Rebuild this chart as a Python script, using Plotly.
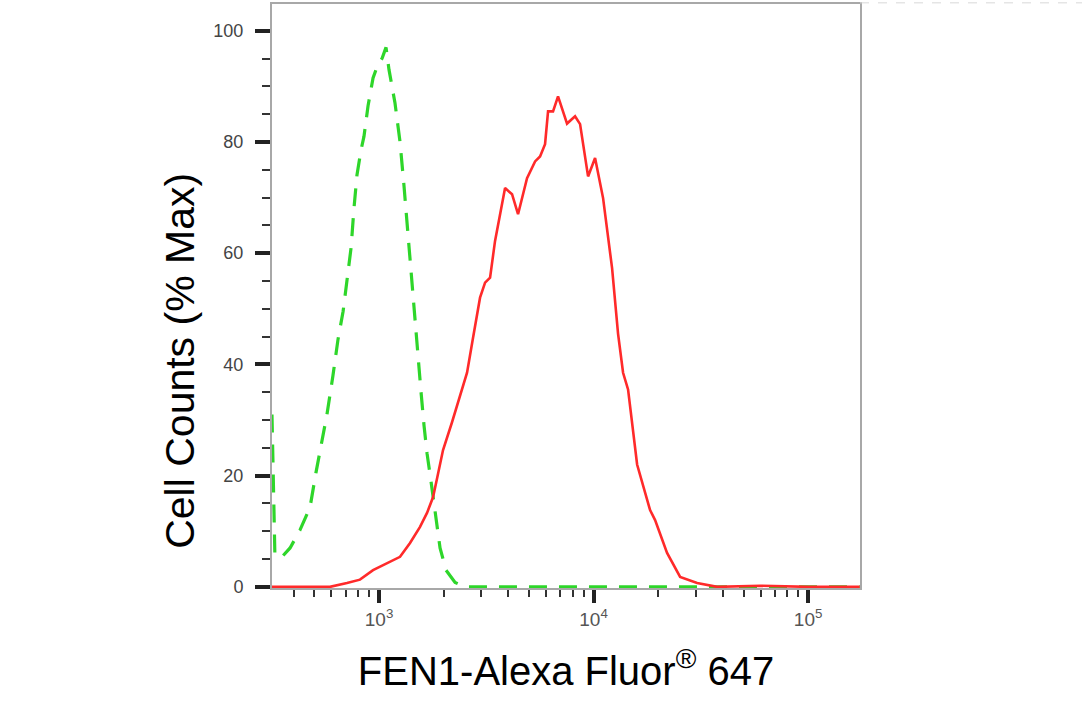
import plotly.graph_objects as go

# Isotype control (green dashed)
control_x = [317, 327, 349, 385, 428, 477, 508, 542, 572, 610, 644, 680, 709, 741, 764, 789,
             824, 851, 889, 938, 989, 1033, 1078, 1113, 1187, 1253, 1308, 1366, 1425, 1472,
             1520, 1570, 1621, 1674, 1747, 1824, 1925, 2053, 2262, 2517, 5000, 20000, 60000, 174000]
control_y = [31, 6, 5.2, 7, 10.2, 14.3, 20.5, 26.3, 31, 38, 44.5, 49.5, 55, 61, 68, 74,
             78.5, 81, 86.5, 91.5, 94, 95, 97, 93, 87, 80, 72, 63, 55, 48.5,
             40.5, 35, 29, 24, 19, 13.5, 7, 3, 0.8, 0, 0, 0, 0, 0]

# FEN1 stained (red)
fen1_x = [317, 591, 709, 815, 938, 1090, 1253, 1395, 1553, 1674, 1785, 1864, 1988, 2189,
          2386, 2572, 2743, 2957, 3121, 3293, 3474, 3868, 4169, 4446, 4897, 5338, 5631,
          5941, 6136, 6473, 6830, 7523, 8199, 8651, 9428, 10162, 11074, 12198, 13008,
          13726, 14479, 15282, 15956, 18340, 19353, 22006, 25318, 30380, 37650, 60000,
          100000, 174000]
fen1_y = [0, 0, 0.7, 1.3, 3, 4.3, 5.4, 7.9, 10.8, 13.3, 16.1, 19.5, 24.6, 29.6,
          34.6, 38.5, 44.8, 52, 54.7, 55.6, 62.2, 71.7, 70.6, 67, 73.5, 76.5, 77.4,
          79.6, 85.5, 85.5, 88.2, 83.3, 84.6, 83.2, 73.8, 77.1, 69.9, 57.3, 45.5,
          38.5, 35.5, 28.1, 22, 13.8, 12, 6.1, 1.8, 0.7, 0, 0.2, 0, 0]

x_tick_vals = [1000, 10000, 100000]
x_tick_text = ["10<sup>3</sup>", "10<sup>4</sup>", "10<sup>5</sup>"]
x_minor_mult = [2, 3, 4, 5, 6, 7, 8, 9]
y_tick_vals = [0, 20, 40, 60, 80, 100]

x_title = "FEN1-Alexa Fluor<sup>®</sup> 647"
y_title = "Cell Counts (% Max)"

x_minor = [m * d for d in [100, 1000, 10000] for m in x_minor_mult if 317 <= m * d <= 174000]

fig = go.Figure()
fig.add_trace(go.Scatter(x=control_x, y=control_y, mode="lines",
                         line=dict(color="#2ed62a", width=3.2, dash="18px,12px"),
                         showlegend=False))
fig.add_trace(go.Scatter(x=fen1_x, y=fen1_y, mode="lines",
                         line=dict(color="#ff2a2a", width=2.6),
                         showlegend=False))

fig.update_layout(
    width=1082, height=704,
    margin=dict(l=272, r=222, t=2, b=116),
    paper_bgcolor="white", plot_bgcolor="white",
    font=dict(family="Liberation Sans, Arial, sans-serif"),
    xaxis=dict(
        type="log", range=[2.5012, 5.2418],
        tickvals=x_tick_vals, ticktext=x_tick_text,
        ticks="outside", ticklen=13, tickwidth=4, tickcolor="#222",
        tickfont=dict(size=19, color="#555"),
        minor=dict(tickvals=x_minor, ticks="outside", ticklen=7, tickwidth=2, tickcolor="#333"),
        showline=True, linecolor="#a8a8a8", linewidth=2, mirror=True,
        showgrid=False, zeroline=False,
        title=dict(text=x_title,
                   font=dict(size=40, color="black",
                             family="Liberation Sans, Arial, sans-serif"),
                   standoff=28),
    ),
    yaxis=dict(
        range=[-0.2, 104.8],
        tickvals=y_tick_vals,
        ticks="outside", ticklen=15, tickwidth=4, tickcolor="#222",
        tickfont=dict(size=18, color="#444"),
        ticklabelstandoff=8,
        minor=dict(dtick=5, ticks="outside", ticklen=8, tickwidth=2, tickcolor="#333"),
        showline=True, linecolor="#a8a8a8", linewidth=2, mirror=True,
        showgrid=False, zeroline=False,
    ),
    annotations=[dict(text=y_title, xref="paper", yref="paper",
                      x=-0.1565, y=0.389, xanchor="center", yanchor="middle",
                      textangle=-90, showarrow=False,
                      font=dict(size=41, color="black"))],
    shapes=[dict(type="line", xref="paper", yref="paper", x0=1.0, x1=1.38, y0=1.002, y1=1.002,
                 line=dict(color="#d8d8d8", width=1, dash="dash"))],
)

fig.write_html("out.html", config={"displayModeBar": False},
               post_script="document.body.style.margin='0px';")
